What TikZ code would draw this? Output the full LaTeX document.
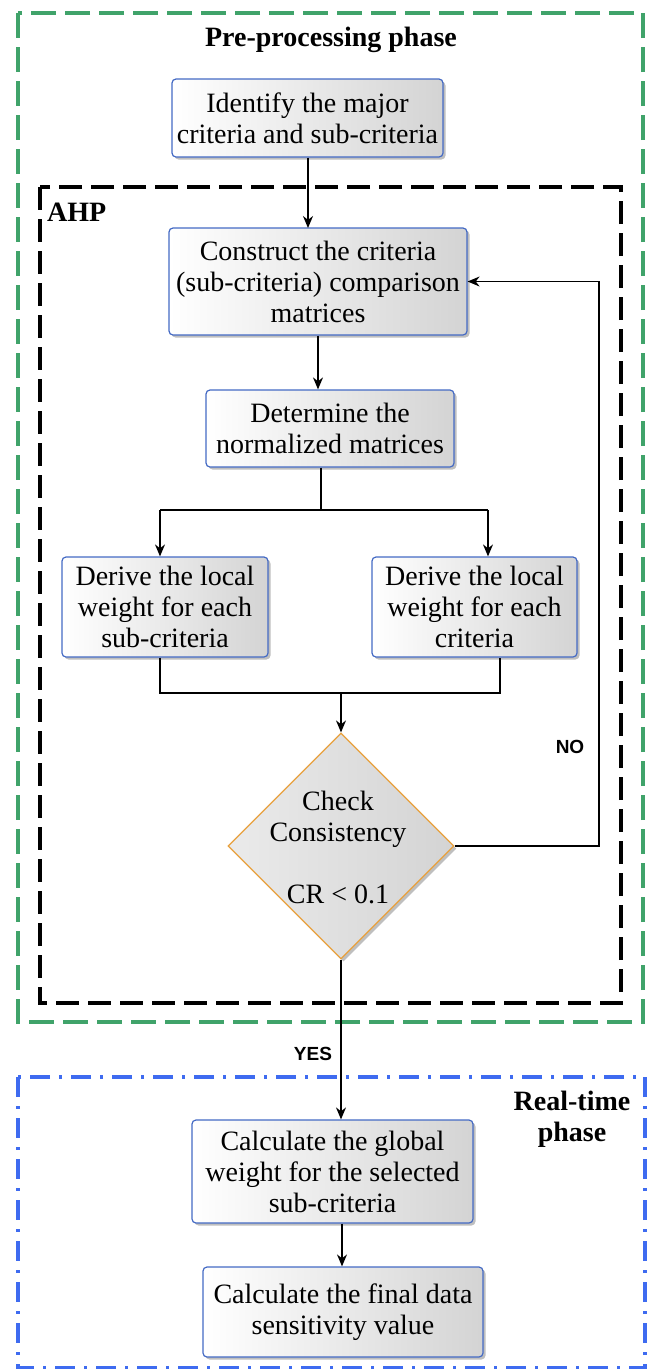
\documentclass[tikz,border=0pt]{standalone}
\usepackage{fontspec}
\setmainfont{Liberation Serif}
\newfontfamily\labelsans{Liberation Sans}
\usetikzlibrary{shapes.geometric,arrows.meta,shadows}

\definecolor{phasegreen}{RGB}{64,163,106}
\definecolor{phaseblue}{RGB}{62,107,240}
\definecolor{boxborder}{RGB}{68,106,196}
\definecolor{decborder}{RGB}{232,160,60}

\tikzset{
  procbox/.style={draw=boxborder, line width=1.2pt, rounded corners=4pt,
    left color=white, right color=black!17, align=center, inner sep=0pt,
    font=\fontsize{28}{31}\selectfont,
    drop shadow={shadow xshift=2.5pt, shadow yshift=-2.5pt, opacity=0.25, fill=black}},
  decbox/.style={draw=decborder, line width=1.2pt, shape=diamond, aspect=1,
    left color=white!92!black, right color=black!17, inner sep=0pt,
    minimum width=226pt, minimum height=226pt,
    drop shadow={shadow xshift=2.5pt, shadow yshift=-2.5pt, opacity=0.25, fill=black}},
  dectext/.style={align=center, font=\fontsize{28}{31}\selectfont},
  headtext/.style={font=\fontsize{28}{31}\selectfont\bfseries, align=center},
  answer/.style={font=\labelsans\fontsize{19}{22}\selectfont\bfseries},
  flow/.style={line width=1.3pt, -{Stealth[length=12pt,width=10pt]}},
  link/.style={line width=1.3pt},
  greenframe/.style={draw=phasegreen, line width=3.5pt, dash pattern=on 25pt off 9pt},
  blackframe/.style={draw=black, line width=4pt, dash pattern=on 23pt off 9pt},
  blueframe/.style={draw=phaseblue, line width=3.6pt, dash pattern=on 20pt off 9pt on 3pt off 9pt},
}

\begin{document}
\begin{tikzpicture}[x=1pt, y=-1pt]
  \useasboundingbox (0,0) rectangle (647,1369);

  % phase frames
  \draw[greenframe] (18,13) rectangle (643,1022);
  \draw[blackframe] (40,187) rectangle (621,1003);
  \draw[blueframe] (18,1077) rectangle (645,1368);

  % frame titles
  \node[headtext] (pretitle) at (331,40) {Pre-processing phase};
  \node[headtext, anchor=west, inner sep=0pt] (ahptitle) at (47,212) {AHP};
  \node[headtext, inner sep=0pt] (rttitle) at (572,1119) {Real-time\\phase};

  % process steps
  \node[procbox, minimum width=271pt, minimum height=78pt] (identify) at (307.5,118)
    {Identify the major\\criteria and sub-criteria};
  \node[procbox, minimum width=298pt, minimum height=107pt] (construct) at (318,281.5)
    {Construct the criteria\\(sub-criteria) comparison\\matrices};
  \node[procbox, minimum width=248pt, minimum height=77pt] (normalize) at (330,428.5)
    {Determine the\\normalized matrices};
  \node[procbox, minimum width=206pt, minimum height=100pt] (localsub) at (165,607)
    {Derive the local\\weight for each\\sub-criteria};
  \node[procbox, minimum width=205pt, minimum height=100pt] (localcrit) at (474.5,607)
    {Derive the local\\weight for each\\criteria};
  \node[decbox] (check) at (341,846) {};
  \node[dectext] (checktext) at (338,847) {Check\\Consistency\\[31pt]CR < 0.1};
  \node[procbox, minimum width=281pt, minimum height=103pt] (global) at (332.5,1171.5)
    {Calculate the global\\weight for the selected\\sub-criteria};
  \node[procbox, minimum width=280pt, minimum height=90pt] (final) at (343,1312)
    {Calculate the final data\\sensitivity value};

  % branch points
  \coordinate (split) at (321,510);
  \coordinate (splitL) at (160,510);
  \coordinate (splitR) at (488,510);
  \coordinate (joinL) at (160,693);
  \coordinate (joinR) at (500,693);
  \coordinate (joinM) at (341,693);
  \coordinate (backB) at (599,846);
  \coordinate (backT) at (599,281.5);

  % connectors
  \draw[flow] (identify.south -| 308,0) -- (308,228);
  \draw[flow] (construct.south -| 318,0) -- (normalize.north -| 318,0);
  \draw[link] (normalize.south -| split) -- (split);
  \draw[link] (splitL) -- (splitR);
  \draw[flow] (splitL) -- (localsub.north -| splitL);
  \draw[flow] (splitR) -- (localcrit.north -| splitR);
  \draw[link] (localsub.south -| joinL) -- (joinL) -- (joinR) -- (localcrit.south -| joinR);
  \draw[flow] (joinM) -- (check.north);
  \draw[flow] (check.east) -- (backB) -- (backT) -- (construct.east);
  \draw[flow] (check.south) -- (global.north -| check.south);
  \draw[flow] (global.south -| 342,0) -- (final.north -| 342,0);

  % decision answers
  \node[answer] (no) at (570,747) {NO};
  \node[answer] (yes) at (313,1054) {YES};
\end{tikzpicture}
\end{document}
